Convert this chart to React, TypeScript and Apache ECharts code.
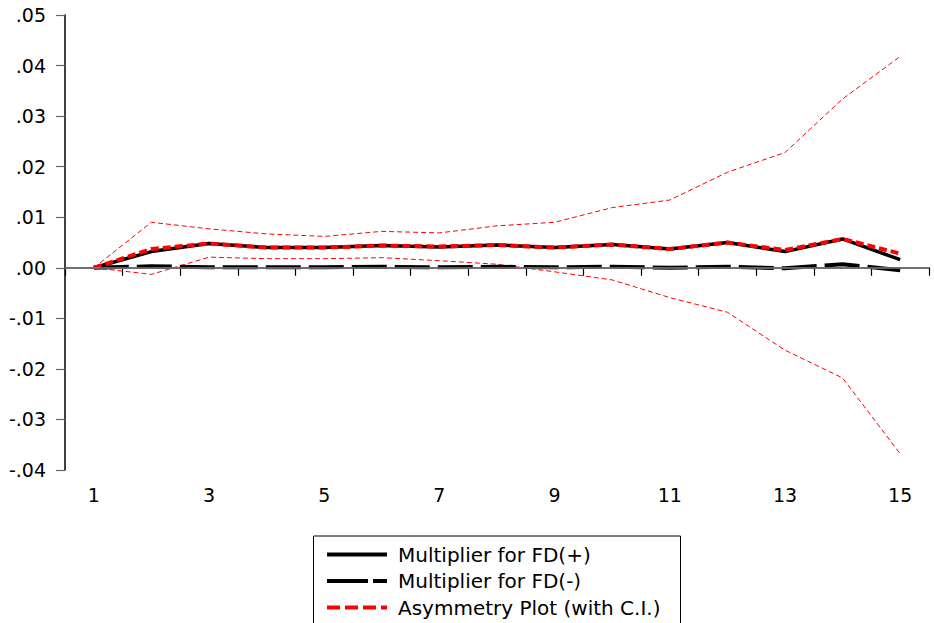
import React, { useEffect, useRef } from "react";
import * as echarts from "echarts";

const categories = ["1","2","3","4","5","6","7","8","9","10","11","12","13","14","15"];
const fdPlus = [0, 0.0032, 0.0048, 0.0040, 0.0040, 0.0044, 0.0041, 0.0045, 0.0040, 0.0046, 0.0037, 0.0050, 0.0032, 0.0057, 0.0016];
const fdMinus = [0, 0.0003, 0.0001, 0.0001, 0.0001, 0.0002, 0.0001, 0.0002, 0.0001, 0.0002, 0.0000, 0.0002, -0.0001, 0.0007, -0.0005];
const asymmetry = [0, 0.0037, 0.0048, 0.0040, 0.0040, 0.0044, 0.0042, 0.0045, 0.0040, 0.0046, 0.0037, 0.0050, 0.0035, 0.0057, 0.0028];
const ciUpper = [0, 0.0090, 0.0077, 0.0067, 0.0062, 0.0072, 0.0069, 0.0083, 0.0090, 0.0119, 0.0134, 0.0189, 0.0228, 0.0334, 0.0418];
const ciLower = [0, -0.0013, 0.0021, 0.0018, 0.0018, 0.0020, 0.0014, 0.0007, -0.0008, -0.0024, -0.0059, -0.0088, -0.0163, -0.0218, -0.0368];
const legendNames = ["Multiplier for FD(+)", "Multiplier for FD(-)", "Asymmetry Plot (with C.I.)"];

const FONT = "'DejaVu Sans', 'Liberation Sans', Arial, sans-serif";

export default function App() {
  const ref = useRef<HTMLDivElement>(null);
  useEffect(() => {
    if (!ref.current) return;
    const chart = echarts.init(ref.current, null, { renderer: "svg" });

    const legendX1 = 327;
    const legendX2 = 387;
    const rowsY = [554.5, 581, 607.5];
    const legendStyles = [
      { stroke: "#000", lineWidth: 4 },
      { stroke: "#000", lineWidth: 4, lineDash: [41, 5] },
      { stroke: "#ff0000", lineWidth: 4, lineDash: [13, 5] },
    ];
    const legendGraphics: any[] = [
      {
        type: "rect",
        shape: { x: 313.5, y: 536, width: 367, height: 110 },
        style: { fill: "#fff", stroke: "#000", lineWidth: 1 },
        z: 10,
      },
    ];
    legendNames.forEach((name, i) => {
      legendGraphics.push({
        type: "line",
        shape: { x1: legendX1, y1: rowsY[i], x2: legendX2, y2: rowsY[i] },
        style: { ...legendStyles[i] },
        z: 11,
      });
      legendGraphics.push({
        type: "text",
        x: 398,
        y: rowsY[i],
        style: {
          text: name,
          fontFamily: FONT,
          fontSize: 20,
          fill: "#000",
          verticalAlign: "middle",
          align: "left",
        },
        z: 11,
      });
    });

    chart.setOption({
      animation: false,
      backgroundColor: "#ffffff",
      grid: { left: 65, right: 5, top: 15, bottom: 153, containLabel: false },
      graphic: legendGraphics,
      xAxis: {
        type: "category",
        data: categories,
        boundaryGap: true,
        axisLine: { lineStyle: { color: "#000", width: 1.5 } },
        axisTick: { show: true, interval: 0, length: 8, lineStyle: { color: "#000", width: 1.2 } },
        axisLabel: { interval: 1, color: "#000", fontFamily: FONT, fontSize: 19, margin: 15 },
        splitLine: { show: false },
      },
      yAxis: {
        type: "value",
        min: -0.04,
        max: 0.05,
        interval: 0.01,
        axisLine: { show: true, lineStyle: { color: "#000", width: 1.5 } },
        axisTick: { show: true, length: 9, lineStyle: { color: "#666", width: 1.2 } },
        axisLabel: {
          color: "#000",
          fontFamily: FONT,
          fontSize: 19,
          margin: 19,
          formatter: (v: number) => {
            const s = (Math.round(v * 100) / 100).toFixed(2);
            return s.replace(/^(-?)0\./, "$1.");
          },
        },
        splitLine: { show: false },
      },
      series: [
        {
          name: "CI upper",
          type: "line",
          data: ciUpper,
          symbol: "none",
          lineStyle: { color: "#ff0000", width: 1, type: [5, 3] },
          markLine: {
            silent: true,
            symbol: "none",
            label: { show: false },
            lineStyle: { color: "#808080", width: 1.5, type: "solid" },
            data: [{ yAxis: 0 }],
          },
          z: 1,
        },
        {
          name: "CI lower",
          type: "line",
          data: ciLower,
          symbol: "none",
          lineStyle: { color: "#ff0000", width: 1, type: [5, 3] },
          z: 1,
        },
        {
          name: legendNames[1],
          type: "line",
          data: fdMinus,
          symbol: "none",
          lineStyle: { color: "#000", width: 4, type: [35, 8] },
          z: 2,
        },
        {
          name: legendNames[0],
          type: "line",
          data: fdPlus,
          symbol: "none",
          lineStyle: { color: "#000", width: 3.5, type: "solid" },
          z: 3,
        },
        {
          name: legendNames[2],
          type: "line",
          data: asymmetry,
          symbol: "none",
          lineStyle: { color: "#ff0000", width: 4, type: [8, 4] },
          z: 4,
        },
      ],
    });
    return () => chart.dispose();
  }, []);
  return <div ref={ref} style={{ width: 934, height: 623, position: "absolute", left: 0, top: 0 }} />;
}
